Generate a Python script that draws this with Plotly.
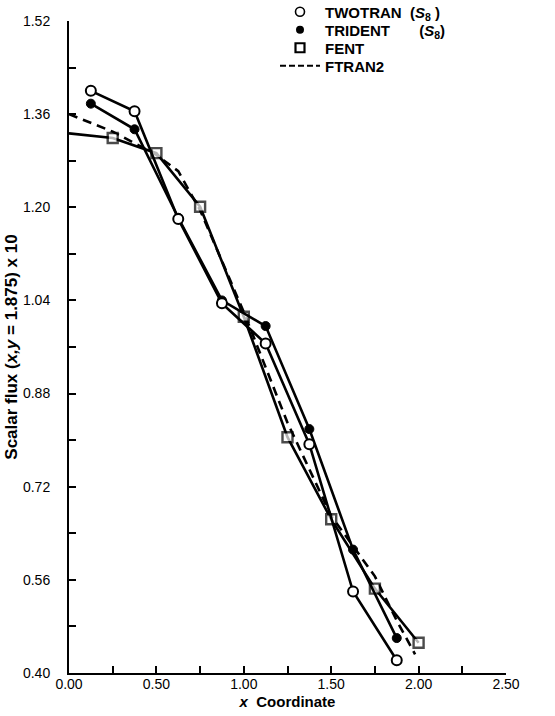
import plotly.graph_objects as go

# ---- data ----
x_cells = [0.125, 0.375, 0.625, 0.875, 1.125, 1.375, 1.625, 1.875]
twotran = [1.400, 1.365, 1.180, 1.035, 0.966, 0.793, 0.540, 0.422]
trident = [1.378, 1.334, 1.182, 1.040, 0.996, 0.819, 0.612, 0.460]

fent_x = [0.0, 0.25, 0.50, 0.75, 1.00, 1.25, 1.50, 1.75, 2.00]
fent = [1.327, 1.319, 1.293, 1.201, 1.012, 0.805, 0.664, 0.545, 0.452]

ftran2_x = [0.0, 0.25, 0.50, 0.625, 0.75, 1.00, 1.25, 1.50, 1.75, 1.875, 1.98]
ftran2 = [1.360, 1.330, 1.290, 1.262, 1.195, 1.020, 0.830, 0.670, 0.566, 0.490, 0.432]

x_ticks = [0.0, 0.5, 1.0, 1.5, 2.0, 2.5]
y_ticks = [0.40, 0.56, 0.72, 0.88, 1.04, 1.20, 1.36, 1.52]

FONT = "Liberation Sans, Arial, sans-serif"
LW = 2.6

fig = go.Figure()

# data traces
fig.add_trace(go.Scatter(x=ftran2_x, y=ftran2, mode="lines",
                         line=dict(color="black", width=LW, dash="9px,6px"),
                         showlegend=False))
fig.add_trace(go.Scatter(x=fent_x, y=fent, mode="lines+markers",
                         line=dict(color="black", width=LW),
                         marker=dict(symbol="square", size=[0] + [10] * (len(fent_x) - 1),
                                     color="white", line=dict(color="black", width=2.4)),
                         showlegend=False))
fig.add_trace(go.Scatter(x=x_cells, y=trident, mode="lines+markers",
                         line=dict(color="black", width=LW),
                         marker=dict(symbol="circle", size=9, color="black",
                                     line=dict(color="black", width=1)),
                         showlegend=False))
fig.add_trace(go.Scatter(x=x_cells, y=twotran, mode="lines+markers",
                         line=dict(color="black", width=LW),
                         marker=dict(symbol="circle", size=10, color="white",
                                     line=dict(color="black", width=2)),
                         showlegend=False))

# legend entries (one legend per row so the rows can sit as in the reference)
nb = "\u00a0"
fig.add_trace(go.Scatter(x=[None], y=[None], mode="markers", legend="legend",
                         marker=dict(symbol="circle", size=9, color="white",
                                     line=dict(color="black", width=1.6)),
                         name="<b>TWOTRAN" + nb * 2 + "(<i>S</i><sub>8</sub> )</b>"))
fig.add_trace(go.Scatter(x=[None], y=[None], mode="markers", legend="legend2",
                         marker=dict(symbol="circle", size=8, color="black"),
                         name="<b>TRIDENT" + nb * 7 + "(<i>S</i><sub>8</sub>)</b>"))
fig.add_trace(go.Scatter(x=[None], y=[None], mode="markers", legend="legend3",
                         marker=dict(symbol="square", size=9, color="white",
                                     line=dict(color="black", width=2.2)),
                         name="<b>FENT</b>"))
fig.add_trace(go.Scatter(x=[None], y=[None], mode="lines", legend="legend4",
                         line=dict(color="black", width=2, dash="6px,3px"),
                         name="<b>FTRAN2</b>"))


def leg(yrow):
    return dict(x=(275 - 69) / 437, y=(673 - yrow) / 652, xanchor="left", yanchor="middle",
                bgcolor="rgba(0,0,0,0)", font=dict(size=15, family=FONT, color="black"),
                itemwidth=40)


fig.update_layout(
    width=555, height=716,
    margin=dict(l=69, r=49, t=21, b=43, autoexpand=False),
    paper_bgcolor="white", plot_bgcolor="white",
    font=dict(family=FONT, color="black", size=14),
    legend=leg(12), legend2=leg(30), legend3=leg(48), legend4=leg(66),
    showlegend=True,
)

fig.update_xaxes(range=[0, 2.5], tickvals=x_ticks,
                 ticktext=[f"{v:.2f}" for v in x_ticks],
                 ticks="inside", ticklen=7, tickwidth=1.5, tickcolor="black",
                 minor=dict(dtick=0.25, tick0=0, ticks="inside", ticklen=7,
                            tickwidth=1.5, tickcolor="black"),
                 showline=True, linecolor="black", linewidth=2,
                 showgrid=False, zeroline=False,
                 tickfont=dict(size=14), ticklabelstandoff=-3,
                 title=dict(text="<b><i>x</i>\u00a0\u00a0Coordinate</b>",
                            font=dict(size=15), standoff=6))
fig.update_yaxes(range=[0.40, 1.52], tickvals=y_ticks,
                 ticktext=[f"{v:.2f}" for v in y_ticks],
                 ticks="inside", ticklen=7, tickwidth=1.5, tickcolor="black",
                 minor=dict(dtick=0.08, tick0=0.40, ticks="inside", ticklen=7,
                            tickwidth=1.5, tickcolor="black"),
                 showline=True, linecolor="black", linewidth=2,
                 showgrid=False, zeroline=False,
                 tickfont=dict(size=14), ticklabelstandoff=14,
                 title=dict(text="<b>Scalar flux (<i>x,y</i> = 1.875) x 10</b>",
                            font=dict(size=17), standoff=1))

fig.write_html("out.html", config={"displayModeBar": False},
               post_script="document.body.style.margin='0px';")
